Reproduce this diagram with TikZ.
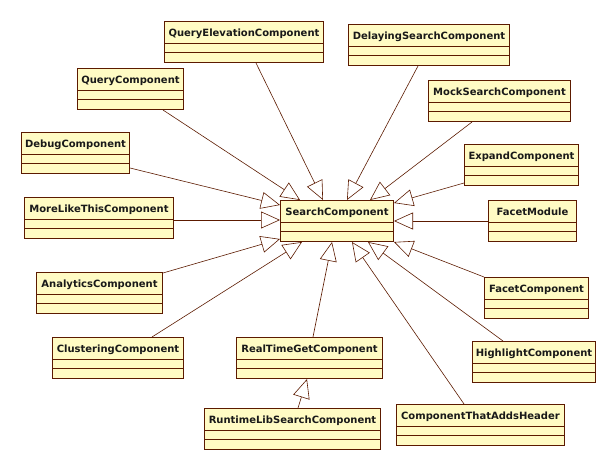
\documentclass[tikz,border=0pt]{standalone}
\usepackage{fontspec}
\setmainfont{DejaVu Sans}
\usetikzlibrary{arrows}
\usepgflibrary{arrows.meta}
\definecolor{classfill}{HTML}{FFFBC4}
\definecolor{classline}{HTML}{5C1A00}

\begin{document}
\begin{tikzpicture}
    [x=1pt, y=-1pt,
    gen/.style={draw=classline, line width=0.6pt, -{Triangle[open, length=19pt, width=17pt, line width=0.6pt]}},
    class/.style={draw=classline, fill=classfill, line width=1pt, anchor=north west, inner sep=0pt,
        minimum height=41pt, text height=15pt, text depth=26pt, text=black!90,
        font=\bfseries\fontsize{10}{12}\selectfont,
        path picture={\draw[classline, line width=1pt]
            ([yshift=-22pt]path picture bounding box.north west) -- ([yshift=-22pt]path picture bounding box.north east)
            ([yshift=-31pt]path picture bounding box.north west) -- ([yshift=-31pt]path picture bounding box.north east);}}]
        \useasboundingbox (0,0) rectangle (616,470);
        % Base class
        \node[class, minimum width=113pt] (sc) at (280,200) {SearchComponent};

        % Subclasses, top and left
        \node[class, minimum width=159pt] (qe) at (164,21) {QueryElevationComponent};
        \node[class, minimum width=106pt] (qc) at (77,68) {QueryComponent};
        \node[class, minimum width=108pt] (dbg) at (21,132) {DebugComponent};
        \node[class, minimum width=149pt] (mlt) at (24,197) {MoreLikeThisComponent};
        \node[class, minimum width=126pt] (an) at (36,272) {AnalyticsComponent};
        \node[class, minimum width=131pt] (cl) at (52,337) {ClusteringComponent};
        % Subclasses, top and right
        \node[class, minimum width=161pt] (ds) at (348,24) {DelayingSearchComponent};
        \node[class, minimum width=142pt] (ms) at (428,80) {MockSearchComponent};
        \node[class, minimum width=114pt] (ex) at (464,144) {ExpandComponent};
        \node[class, minimum width=88pt] (fm) at (488,200) {FacetModule};
        \node[class, minimum width=104pt] (fc) at (484,277) {FacetComponent};
        \node[class, minimum width=123pt] (hl) at (472,341) {HighlightComponent};
        % Subclasses, bottom
        \node[class, minimum width=146pt] (rtg) at (236,337) {RealTimeGetComponent};
        \node[class, minimum width=176pt] (rls) at (204,408) {RuntimeLibSearchComponent};
        \node[class, minimum width=168pt] (cah) at (396,404) {ComponentThatAddsHeader};

        % Generalisations
        \draw[gen] ([xshift=92pt]qe.south west) -- ([xshift=43pt]sc.north west);
        \draw[gen] ([xshift=86pt]qc.south west) -- ([xshift=20pt]sc.north west);
        \draw[gen] ([yshift=-36pt]dbg.north east) -- ([yshift=-5pt]sc.north west);
        \draw[gen] ([yshift=-23pt]mlt.north east) -- ([yshift=-20pt]sc.north west);
        \draw[gen] ([yshift=-1pt]an.north east) -- ([yshift=3pt]sc.south west);
        \draw[gen] ([xshift=100pt]cl.north west) -- ([xshift=22pt]sc.south west);
        \draw[gen] ([xshift=70pt]ds.south west) -- ([xshift=67pt]sc.north west);
        \draw[gen] ([xshift=44pt]ms.south west) -- ([xshift=90pt]sc.north west);
        \draw[gen] ([yshift=-39pt]ex.north west) -- ([yshift=-3pt]sc.north east);
        \draw[gen] ([yshift=-21pt]fm.north west) -- ([yshift=-21pt]sc.north east);
        \draw[gen] (fc.north west) -- (sc.south east);
        \draw[gen] ([xshift=31pt]hl.north west) -- ([xshift=88pt]sc.south west);
        \draw[gen] ([xshift=68pt]cah.north west) -- ([xshift=72pt]sc.south west);
        \draw[gen] ([xshift=77pt]rtg.north west) -- ([xshift=52pt]sc.south west);
        \draw[gen] ([xshift=94pt]rls.north west) -- ([xshift=71pt]rtg.south west);
\end{tikzpicture}
\end{document}
